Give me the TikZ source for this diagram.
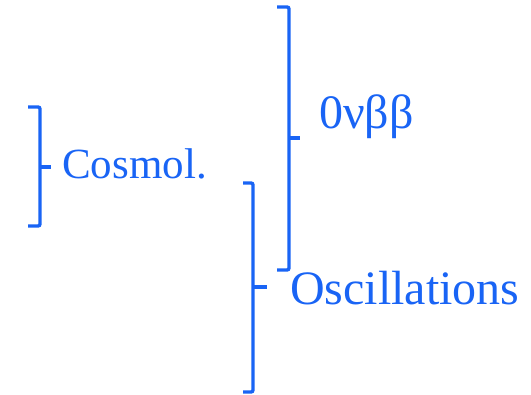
\documentclass[tikz,border=0pt]{standalone}
\usepackage{fontspec}
\setmainfont{Liberation Serif}
\definecolor{brblue}{RGB}{25,100,245}
\begin{document}
\begin{tikzpicture}[x=1pt,y=-1pt,
  brk/.style={draw=brblue,line width=3.4pt,rounded corners=2pt},
  lbl/.style={text=brblue,anchor=base west,inner sep=0pt}]
\useasboundingbox (0,0) rectangle (531,395);
% bracket for Cosmol.
\draw[brk] (28,107) -- (40,107) -- (40,226) -- (28,226);
\coordinate (c1) at (40,167);
\node[lbl,font=\fontsize{43}{43}\selectfont] (cosmol) at (62,179) {Cosmol.};
\draw[brk] (c1) -- ++(11,0);
% bracket for 0nbb
\draw[brk] (277,7) -- (289,7) -- (289,270) -- (277,270);
\coordinate (c2) at (289,138);
\node[lbl,font=\fontsize{48}{48}\selectfont] (onbb) at (319,129) {0νββ};
\draw[brk] (c2) -- ++(11,0);
% bracket for Oscillations
\draw[brk] (243,183) -- (253,183) -- (253,392) -- (243,392);
\coordinate (c3) at (253,287);
\node[lbl,font=\fontsize{48}{48}\selectfont] (osc) at (290,305) {Oscillations};
\draw[brk] (c3) -- ++(14,0);
\end{tikzpicture}
\end{document}
